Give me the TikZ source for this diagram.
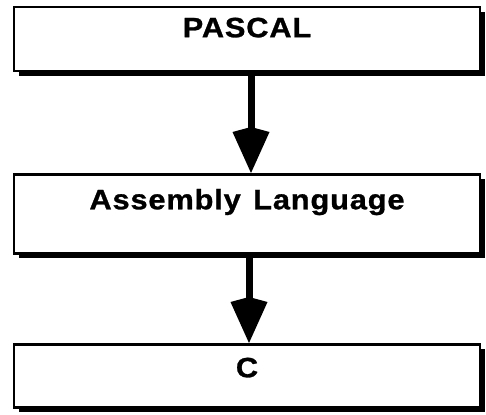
\documentclass[tikz,border=0pt]{standalone}
\usepackage{fontspec}
\usetikzlibrary{arrows.meta,shadows}
\newfontfamily\langfont{Liberation Sans}[LetterSpace=3, FakeStretch=1.1, FakeBold=1]

\begin{document}
\begin{tikzpicture}[x=1pt, y=-1pt,
    langbox/.style={draw, line width=2.5pt, fill=white, inner sep=0pt,
        minimum width=466pt, anchor=north,
        font=\langfont\bfseries\fontsize{28}{32}\selectfont,
        general shadow={fill=black, shadow xshift=5pt, shadow yshift=-5pt}},
    flow/.style={line width=7pt, -{Kite[length=46pt, width=37pt, inset=5pt, line width=0pt 0]}}]
    \useasboundingbox (0,0) rectangle (486,414);

    % Language boxes
    \node[langbox, text height=30pt, text depth=34pt] (pascal) at (247,6) {PASCAL};
    \node[langbox, text height=35pt, text depth=44pt] (asm) at (247,173) {Assembly\hspace{3pt} Language};
    \node[langbox, text height=33pt, text depth=30pt] (c) at (247,343) {C};

    % Translation arrows
    \draw[flow] ([xshift=4pt]pascal.south) -- ([xshift=4pt]asm.north);
    \draw[flow] ([xshift=2pt]asm.south) -- ([xshift=2pt]c.north);
\end{tikzpicture}
\end{document}
